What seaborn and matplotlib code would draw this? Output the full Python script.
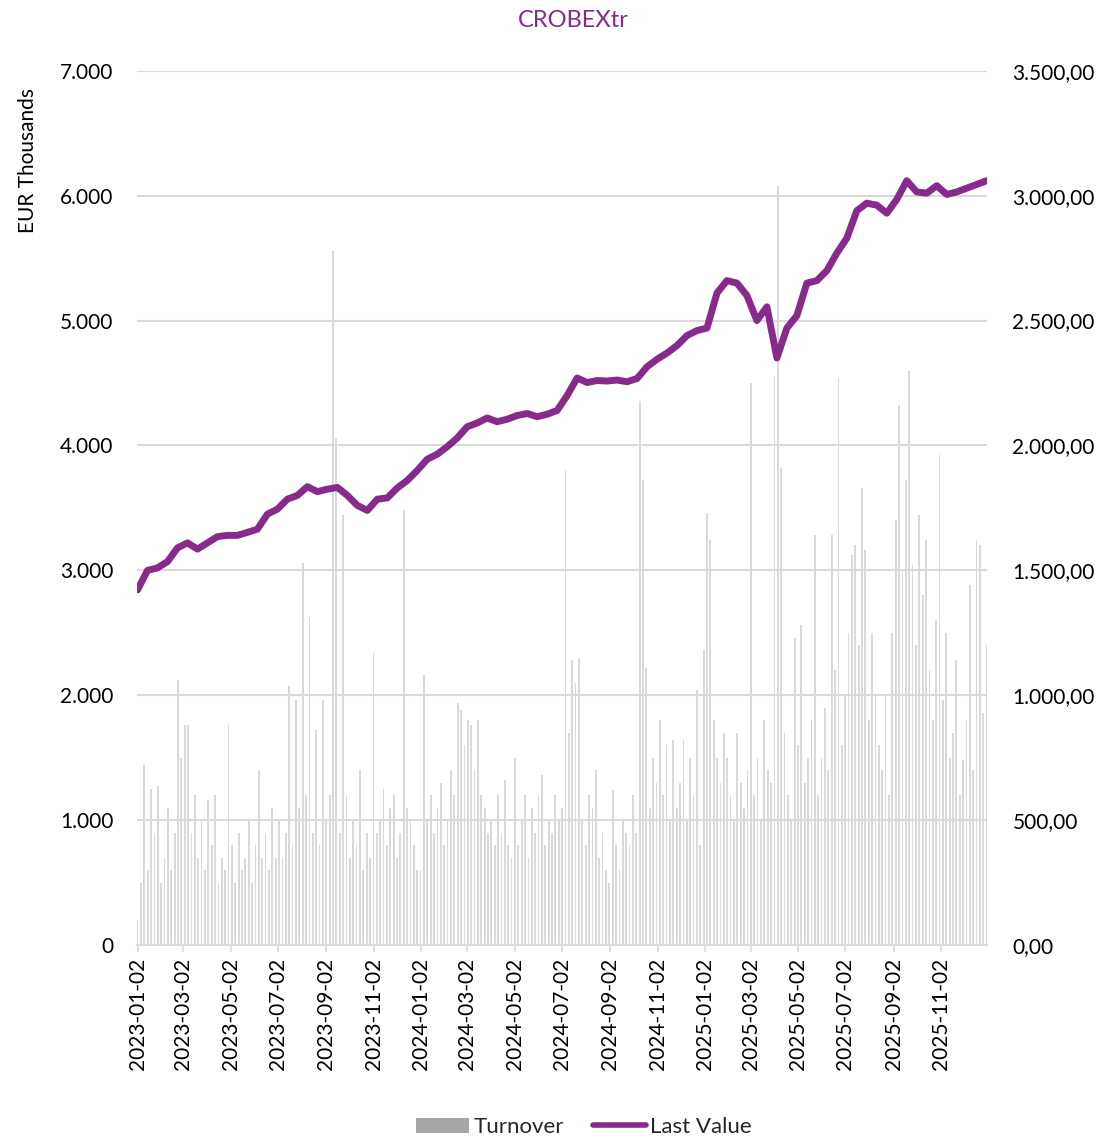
import numpy as np
import pandas as pd
import matplotlib
matplotlib.use("Agg")
import matplotlib.pyplot as plt
import matplotlib.dates as mdates
from matplotlib.ticker import FuncFormatter, MultipleLocator
from matplotlib.patches import Patch
from matplotlib.lines import Line2D
import seaborn as sns

# ---------------- data ----------------
start_date = "2023-01-02"
end_date = "2025-12-31"

# Turnover (EUR thousands), roughly one value every ~3 trading days, month by month
turnover_2023 = [
    200, 500, 1440, 600, 1250, 900, 1270,
    500, 700, 1100, 600, 900, 2120, 1500,
    1760, 1760, 900, 1200, 700, 1000, 600,
    1160, 800, 1200, 500, 700, 600, 1760,
    800, 500, 900, 600, 700, 1000, 500,
    800, 1400, 700, 900, 600, 1100, 700,
    1000, 700, 900, 2070, 800, 1960, 1100,
    3060, 1200, 2620, 900, 1720, 800, 1960,
    1000, 1200, 5560, 4060, 900, 3440, 1200,
    700, 1000, 800, 1400, 600, 900, 700,
    2340, 900, 1000, 1250, 800, 1100, 1200,
    700, 900, 3480, 1100, 1000, 800, 600,
]
turnover_2024 = [
    600, 2160, 1000, 1200, 900, 1100, 1300,
    800, 1000, 1400, 1200, 1940, 1880, 1600,
    1800, 1760, 1400, 1800, 1200, 1100, 900,
    1000, 800, 1200, 900, 1320, 800, 700,
    1500, 800, 1000, 1200, 700, 1100, 900,
    1200, 1360, 800, 1000, 900, 1200, 1000,
    1100, 3800, 1700, 2280, 2100, 2300, 1000,
    800, 1200, 1100, 1400, 700, 900, 600,
    500, 1240, 800, 600, 1000, 900, 800,
    1200, 900, 4360, 3720, 2220, 1100, 1500,
    1300, 1800, 1200, 1600, 1000, 1640, 1100,
    1300, 1640, 1000, 1500, 1200, 2040, 800,
]
turnover_2025 = [
    2360, 3460, 3240, 1800, 1500, 1300, 1700,
    1500, 1200, 1000, 1700, 1300, 1100, 1400,
    4500, 1200, 1500, 1000, 1800, 1400, 1300,
    4560, 6080, 3820, 1700, 1200, 1000, 2460,
    1600, 2560, 1300, 1500, 1800, 3280, 1200,
    1500, 1900, 1400, 3280, 2200, 4540, 1600,
    2000, 2500, 3120, 3200, 2400, 3660, 3160,
    1800, 2500, 2000, 1600, 1400, 2000, 1200,
    2500, 3400, 4320, 3000, 3720, 4600, 3040,
    2400, 3440, 2800, 3240, 2200, 1800, 2600,
    3920, 1960, 2500, 1500, 1700, 2280, 1200,
    1480, 1800, 2880, 1400, 3240, 3200, 1860, 2400,
]
turnover = turnover_2023 + turnover_2024 + turnover_2025

# Last value of CROBEXtr, sampled roughly every two weeks
last_value = [
    1422, 1500, 1510, 1535, 1590, 1610, 1585, 1610, 1635, 1640,
    1640, 1652, 1665, 1725, 1745, 1785, 1800, 1835, 1815, 1825,
    1832, 1800, 1760, 1740, 1785, 1790, 1830, 1860, 1900, 1945,
    1965, 1995, 2030, 2075, 2090, 2110, 2095, 2105, 2120, 2128,
    2115, 2125, 2140, 2200, 2270, 2252, 2260, 2258, 2262, 2255,
    2268, 2315, 2345, 2370, 2400, 2440, 2460, 2470, 2610, 2660,
    2650, 2600, 2500, 2555, 2350, 2470, 2520, 2650, 2660, 2700,
    2770, 2830, 2940, 2970, 2962, 2930, 2985, 3060, 3015, 3010,
    3040, 3005, 3015, 3030, 3045, 3060,
]

tick_labels = ["2023-01-02", "2023-03-02", "2023-05-02", "2023-07-02", "2023-09-02",
               "2023-11-02", "2024-01-02", "2024-03-02", "2024-05-02", "2024-07-02",
               "2024-09-02", "2024-11-02", "2025-01-02", "2025-03-02", "2025-05-02",
               "2025-07-02", "2025-09-02", "2025-11-02"]

turn_dates = pd.date_range(start_date, end_date, periods=len(turnover))
line_dates = pd.date_range(start_date, end_date, periods=len(last_value))
df_turn = pd.DataFrame({"date": turn_dates, "Turnover": turnover})
df_line = pd.DataFrame({"date": line_dates, "Last Value": last_value})

# ---------------- style ----------------
sns.set_theme(style="white")
plt.rcParams["font.family"] = ["Lato", "DejaVu Sans"]

PURPLE = "#872a8c"
BAR = "#d9d9d9"
GRID = "#d9d9d9"
TXT = "#000000"

fig = plt.figure(figsize=(11.12, 11.42), dpi=100)
ax = fig.add_axes([0.123, 0.1725, 0.765, 0.7655])
ax2 = ax.twinx()

ax.bar(df_turn["date"], df_turn["Turnover"], width=2.3, color=BAR, linewidth=0, zorder=2)
sns.lineplot(data=df_line, x="date", y="Last Value", ax=ax2, color=PURPLE, linewidth=5,
             solid_capstyle="round", solid_joinstyle="round", legend=False)

ax.set_ylim(0, 7000)
ax2.set_ylim(0, 3500)
ax.yaxis.set_major_locator(MultipleLocator(1000))
ax2.yaxis.set_major_locator(MultipleLocator(500))

def left_fmt(v, p):
    return f"{int(round(v)):,}".replace(",", ".")

def right_fmt(v, p):
    s = f"{v:,.2f}"
    return s.replace(",", "X").replace(".", ",").replace("X", ".")

ax.yaxis.set_major_formatter(FuncFormatter(left_fmt))
ax2.yaxis.set_major_formatter(FuncFormatter(right_fmt))

ax.grid(axis="y", color=GRID, linewidth=1.5, zorder=0)
ax.set_axisbelow(True)
ax2.grid(False)

xmin = pd.Timestamp(start_date) - pd.Timedelta(days=1)
xmax = pd.Timestamp(end_date) + pd.Timedelta(days=1)
ax.set_xlim(xmin, xmax)
ticks = pd.to_datetime(tick_labels)
ax.set_xticks(ticks)
ax.set_xticklabels(tick_labels, rotation=90, fontsize=15, color=TXT)
ax.tick_params(axis="x", which="major", length=5, color=GRID, width=1.2, pad=4, bottom=True)

ax.tick_params(axis="y", length=0, labelsize=15, pad=17, labelcolor=TXT)
ax2.tick_params(axis="y", length=0, labelsize=15, pad=18, labelcolor=TXT)

for a in (ax, ax2):
    for s in ["top", "right", "left"]:
        a.spines[s].set_visible(False)
    a.spines["bottom"].set_color(GRID)
    a.spines["bottom"].set_linewidth(1.5)
ax2.spines["bottom"].set_visible(False)

ax.set_ylabel("EUR Thousands", fontsize=15, color=TXT, loc="top")
ax.yaxis.set_label_coords(-0.128, 0.98, transform=ax.transAxes)
ax.yaxis.label.set_va("center")
ax2.set_ylabel("")
ax.set_xlabel("")
ax2.set_xlabel("")

fig.text(0.516, 0.982, "CROBEXtr", ha="center", va="center", fontsize=17, color=PURPLE)

handles = [Patch(facecolor="#a6a6a6", edgecolor="none", label="Turnover"),
           Line2D([0], [0], color=PURPLE, linewidth=4, label="Last Value")]
fig.legend(handles=handles, loc="center", bbox_to_anchor=(0.525, 0.013), ncol=2,
           frameon=False, fontsize=16, handlelength=2.4, handletextpad=0.2, columnspacing=1.3)

fig.savefig("out.png", dpi=100)
